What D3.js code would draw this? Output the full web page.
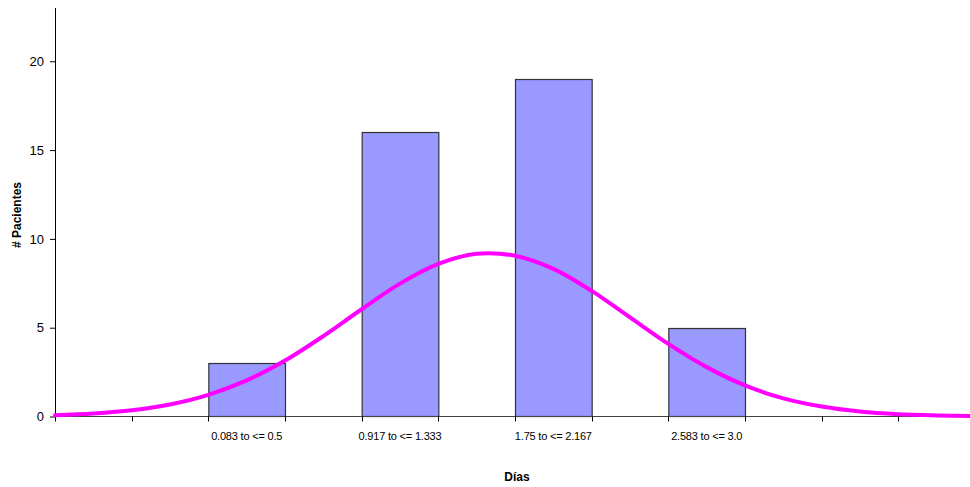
<!DOCTYPE html>
<html>
<head>
<meta charset="utf-8">
<script src="https://cdn.jsdelivr.net/npm/d3@7"></script>
<style>
  html, body { margin: 0; padding: 0; background: #fff; }
  svg { display: block; font-family: Arial, "Liberation Sans", sans-serif; }
</style>
</head>
<body>
<svg id="chart" width="970" height="487"></svg>
<script>
// ---- data ----
const binLabels = ["", "", "0.083 to <= 0.5", "", "0.917 to <= 1.333", "", "1.75 to <= 2.167", "", "2.583 to <= 3.0", "", "", ""];
const binCounts = [0, 0, 3, 0, 16, 0, 19, 0, 5, 0, 0, 0];
// fitted normal curve (x in bin units, y in patients)
const curveX = [0, 0.5, 1, 1.5, 2, 2.5, 3, 3.5, 4, 4.5, 5, 5.5, 6, 6.5, 7, 7.5, 8, 8.5, 9, 9.5, 10, 10.5, 11, 11.5, 12];
const curveY = [0.07, 0.17, 0.35, 0.68, 1.22, 2.03, 3.15, 4.53, 6.04, 7.48, 8.59, 9.16, 9.05, 8.31, 7.07, 5.58, 4.09, 2.78, 1.75, 1.02, 0.56, 0.28, 0.13, 0.06, 0.02];
const yTicks = [0, 5, 10, 15, 20];
const xTitle = "Días";
const yTitle = "# Pacientes";

// ---- layout ----
const svg = d3.select("#chart");
const mLeft = 55, mRight = 975, mTop = 8, mBottom = 416.5;

const x = d3.scaleBand().domain(d3.range(binLabels.length)).range([mLeft, mRight]).padding(0);
const xl = d3.scaleLinear().domain([0, binLabels.length]).range([mLeft, mRight]);
const y = d3.scaleLinear().domain([0, 23]).range([mBottom, mTop]);

// bars
svg.append("g").selectAll("rect")
  .data(binCounts.map((v, i) => ({v, i})).filter(d => d.v > 0))
  .join("rect")
  .attr("x", d => x(d.i) + 0.5)
  .attr("y", d => Math.round(y(d.v)) + 0.5)
  .attr("width", x.bandwidth())
  .attr("height", d => mBottom - Math.round(y(d.v)) - 0.5)
  .attr("fill", "#9999FF")
  .attr("stroke", "#333")
  .attr("stroke-width", 1.2);

// x axis
const xAxis = svg.append("g").attr("transform", `translate(0,${mBottom})`);
xAxis.append("line").attr("x1", mLeft).attr("x2", mRight).attr("stroke", "#444").attr("stroke-width", 1.2);
xAxis.selectAll("line.tick").data(d3.range(binLabels.length + 1)).join("line")
  .attr("class", "tick")
  .attr("x1", d => Math.round(xl(d)) + 0.5).attr("x2", d => Math.round(xl(d)) + 0.5)
  .attr("y1", 0).attr("y2", 5).attr("stroke", "#000");
xAxis.selectAll("text").data(binLabels.map((t, i) => ({t, i})).filter(d => d.t)).join("text")
  .attr("x", d => x(d.i) + x.bandwidth() / 2)
  .attr("y", 23)
  .attr("text-anchor", "middle")
  .attr("font-size", "11px")
  .attr("letter-spacing", "-0.2px")
  .attr("fill", "#000")
  .text(d => d.t);

// y axis
const yAxis = svg.append("g").attr("transform", `translate(${mLeft},0)`)
  .call(d3.axisLeft(y).tickValues(yTicks).tickSize(5).tickPadding(6).tickFormat(d3.format("d")));
yAxis.select(".domain").attr("stroke", "#000").attr("d", `M0.5,${mTop}V${mBottom}`);
yAxis.selectAll(".tick line").attr("stroke", "#000");
yAxis.selectAll(".tick text").attr("font-size", "13px").attr("font-family", "Arial, 'Liberation Sans', sans-serif").attr("fill", "#000");

// curve
const line = d3.line().x(d => xl(d[0])).y(d => y(d[1])).curve(d3.curveCatmullRom);
svg.append("path")
  .datum(curveX.map((v, i) => [v, curveY[i]]))
  .attr("d", line)
  .attr("fill", "none")
  .attr("stroke", "#FF00FF")
  .attr("stroke-width", 4)
  .attr("stroke-linecap", "round");

// titles
svg.append("text").attr("x", 517).attr("y", 481)
  .attr("text-anchor", "middle").attr("font-size", "12px").attr("font-weight", "bold")
  .text(xTitle);
svg.append("text").attr("transform", "translate(20.5,215) rotate(-90)")
  .attr("text-anchor", "middle").attr("font-size", "12px").attr("font-weight", "bold")
  .text(yTitle);
</script>
</body>
</html>
